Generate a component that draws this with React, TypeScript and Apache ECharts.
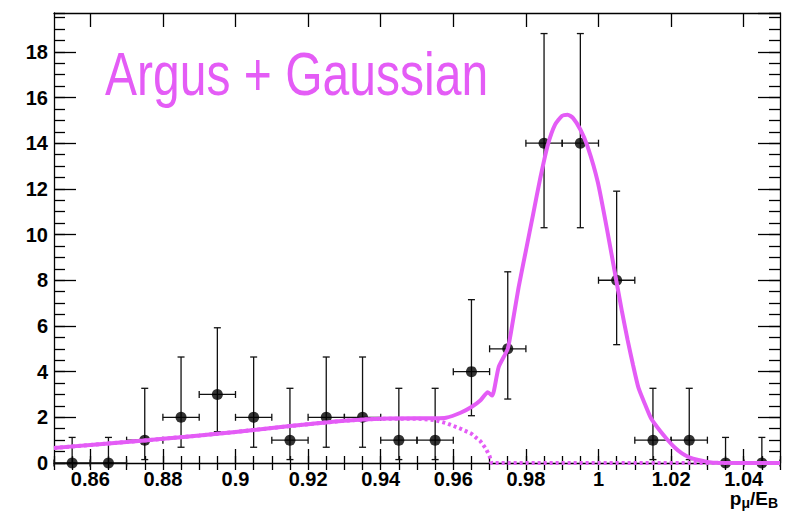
import React, { useEffect, useRef } from "react";
import * as echarts from "echarts";

// ---- data ----
const binCenters = [0.855, 0.865, 0.875, 0.885, 0.895, 0.905, 0.915, 0.925, 0.935, 0.945, 0.955, 0.965, 0.975, 0.985, 0.995, 1.005, 1.015, 1.025, 1.035, 1.045];
const counts = [0, 0, 1, 2, 3, 2, 1, 2, 2, 1, 1, 4, 5, 14, 14, 8, 1, 1, 0, 0];
const errLow = [0, 0, 0.15, 0.69, 1.37, 0.69, 0.15, 0.69, 0.69, 0.15, 0.15, 2.07, 2.8, 10.3, 10.3, 5.18, 0.15, 0.15, 0, 0];
const errHigh = [1.12, 1.12, 3.27, 4.64, 5.92, 4.64, 3.27, 4.64, 4.64, 3.27, 3.27, 7.15, 8.37, 18.8, 18.8, 11.9, 3.27, 3.27, 1.12, 1.12];
const binHalfWidth = 0.005;

const totalX = [0.85, 0.86, 0.87, 0.88, 0.89, 0.9, 0.91, 0.92, 0.93, 0.94, 0.95, 0.955, 0.958, 0.962, 0.965, 0.9675, 0.9695, 0.9707, 0.9725, 0.975, 0.9765, 0.978, 0.98, 0.982, 0.984, 0.986, 0.988, 0.99, 0.9915, 0.993, 0.995, 0.997, 0.9998, 1.0025, 1.005, 1.0065, 1.008, 1.0095, 1.011, 1.013, 1.0145, 1.017, 1.019, 1.021, 1.023, 1.025, 1.0275, 1.03, 1.033, 1.05];
const totalY = [0.66, 0.79, 0.92, 1.06, 1.2, 1.36, 1.53, 1.7, 1.85, 1.94, 1.96, 1.96, 1.98, 2.2, 2.45, 2.75, 3.1, 2.95, 4.2, 5.0, 6.3, 7.7, 9.3, 10.9, 12.5, 13.9, 14.8, 15.2, 15.25, 15.1, 14.6, 13.85, 12.3, 10.1, 7.9, 6.6, 5.4, 4.3, 3.3, 2.5, 1.95, 1.4, 1.02, 0.68, 0.42, 0.25, 0.13, 0.05, 0.01, 0];

const argusX = [0.85, 0.86, 0.87, 0.88, 0.89, 0.9, 0.91, 0.92, 0.93, 0.94, 0.95, 0.955, 0.9585, 0.962, 0.965, 0.9675, 0.969, 0.97, 0.9705, 1.05];
const argusY = [0.66, 0.79, 0.92, 1.06, 1.2, 1.36, 1.53, 1.7, 1.85, 1.94, 1.94, 1.88, 1.72, 1.5, 1.28, 0.95, 0.62, 0.3, 0, 0];

const xMajorTicks = [0.86, 0.88, 0.9, 0.92, 0.94, 0.96, 0.98, 1, 1.02, 1.04];
const titleText = "Argus + Gaussian";

const MAGENTA = "#e45cf6";
const FONT = "Liberation Sans, Arial, Helvetica, sans-serif";

export default function App() {
  const ref = useRef<HTMLDivElement>(null);
  useEffect(() => {
    if (!ref.current) return;
    const chart = echarts.init(ref.current, undefined, { renderer: "svg" });

    const points = binCenters.map((x, i) => [x, counts[i], errLow[i], errHigh[i]]);
    const total = totalX.map((x, i) => [x, totalY[i]]);
    const argus = argusX.map((x, i) => [x, argusY[i]]);

    const xBase: any = { type: "value", min: 0.85, max: 1.05, splitLine: { show: false } };
    const yBase: any = { type: "value", min: 0, max: 19.7, splitLine: { show: false } };
    const lineBlack = { color: "#000", width: 1.3 };
    const tickStyle = { color: "#000", width: 1.3 };

    const xMajor = (position: string, labels: boolean) => ({
      ...xBase,
      position,
      axisLine: { show: true, onZero: false, lineStyle: lineBlack },
      axisTick: { show: true, inside: true, length: 14, customValues: xMajorTicks, lineStyle: tickStyle },
      axisLabel: labels
        ? { show: true, customValues: xMajorTicks, color: "#000", fontSize: 20, fontWeight: "bold", fontFamily: FONT, margin: 8, lineHeight: 16 }
        : { show: false },
    });
    const xMinor = (position: string) => ({
      ...xBase,
      position,
      interval: 0.005,
      axisLine: { show: false },
      axisTick: { show: true, inside: true, length: 7, lineStyle: tickStyle },
      axisLabel: { show: false },
    });
    const yMajor = (position: string, labels: boolean) => ({
      ...yBase,
      position,
      interval: 2,
      axisLine: { show: true, onZero: false, lineStyle: lineBlack },
      axisTick: { show: true, inside: true, length: 22, lineStyle: tickStyle },
      axisLabel: labels
        ? { show: true, showMaxLabel: false, color: "#000", fontSize: 20, fontWeight: "bold", fontFamily: FONT, margin: 6 }
        : { show: false },
    });
    const yMinor = (position: string) => ({
      ...yBase,
      position,
      interval: 0.5,
      axisLine: { show: false },
      axisTick: { show: true, inside: true, length: 11, lineStyle: tickStyle },
      axisLabel: { show: false },
    });

    chart.setOption({
      animation: false,
      backgroundColor: "#fff",
      grid: { left: 54, right: 6, top: 13, bottom: 48, containLabel: false },
      xAxis: [xMajor("bottom", true), xMinor("bottom"), xMajor("top", false), xMinor("top")],
      yAxis: [yMajor("left", true), yMinor("left"), yMajor("right", false), yMinor("right")],
      graphic: [
        {
          type: "text",
          x: 105,
          y: 74,
          scaleX: 0.775,
          z: 100,
          style: { text: titleText, fontSize: 62, fontFamily: FONT, fill: MAGENTA, align: "left", verticalAlign: "middle" },
        },
        {
          type: "text",
          x: 778,
          y: 510,
          z: 100,
          style: {
            text: "{p|p}{s|μ}{p|/E}{s|B}",
            align: "right",
            verticalAlign: "bottom",
            rich: {
              p: { fontSize: 19, fontWeight: "bold", fontFamily: FONT, fill: "#000", lineHeight: 12, verticalAlign: "top" },
              s: { fontSize: 14, fontWeight: "bold", fontFamily: FONT, fill: "#000", lineHeight: 21, verticalAlign: "bottom" },
            },
          },
        },
      ],
      series: [
        {
          type: "custom",
          xAxisIndex: 0,
          yAxisIndex: 0,
          z: 2,
          clip: false,
          silent: true,
          data: points,
          renderItem: (params: any, api: any) => {
            const x = api.value(0);
            const y = api.value(1);
            const lo = api.value(2);
            const hi = api.value(3);
            const top = api.coord([x, hi]);
            const bot = api.coord([x, lo]);
            const left = api.coord([x - binHalfWidth, y]);
            const right = api.coord([x + binHalfWidth, y]);
            const cap = 3.5;
            const style = { stroke: "#111", lineWidth: 1.3 };
            const ln = (x1: number, y1: number, x2: number, y2: number) => ({
              type: "line",
              shape: { x1, y1, x2, y2 },
              style,
            });
            return {
              type: "group",
              children: [
                ln(top[0], top[1], bot[0], bot[1]),
                ln(top[0] - cap, top[1], top[0] + cap, top[1]),
                ln(bot[0] - cap, bot[1], bot[0] + cap, bot[1]),
                ln(left[0], left[1], right[0], right[1]),
                ln(left[0], left[1] - cap, left[0], left[1] + cap),
                ln(right[0], right[1] - cap, right[0], right[1] + cap),
              ],
            };
          },
        },
        {
          type: "scatter",
          xAxisIndex: 0,
          yAxisIndex: 0,
          z: 3,
          clip: false,
          silent: true,
          symbol: "circle",
          symbolSize: 11,
          itemStyle: { color: "#000" },
          data: binCenters.map((x, i) => [x, counts[i]]),
        },
        {
          type: "line",
          xAxisIndex: 0,
          yAxisIndex: 0,
          z: 4,
          clip: false,
          silent: true,
          showSymbol: false,
          symbol: "none",
          lineStyle: { color: MAGENTA, width: 4, type: [3, 3] },
          data: argus,
        },
        {
          type: "line",
          xAxisIndex: 0,
          yAxisIndex: 0,
          z: 5,
          clip: false,
          silent: true,
          showSymbol: false,
          symbol: "none",
          smooth: 0.2,
          lineStyle: { color: MAGENTA, width: 4 },
          data: total,
        },
      ],
    });
    return () => chart.dispose();
  }, []);

  return <div ref={ref} style={{ position: "absolute", left: 0, top: 0, width: 786, height: 511 }} />;
}
